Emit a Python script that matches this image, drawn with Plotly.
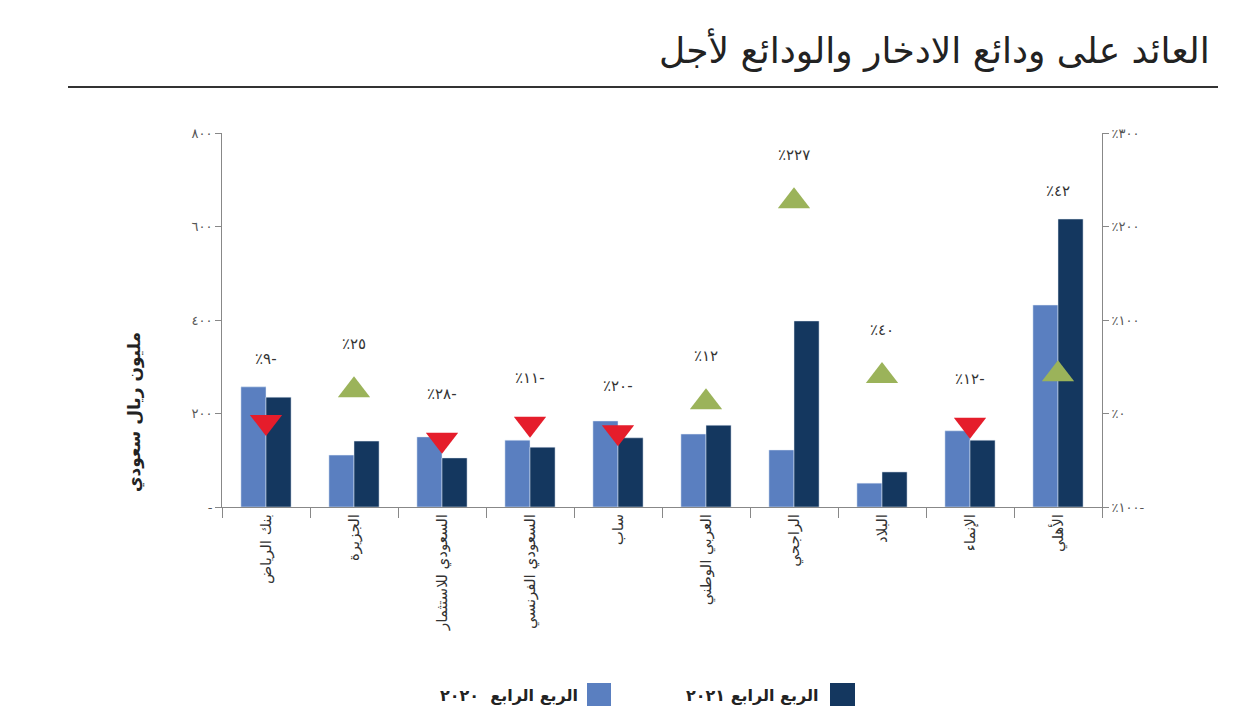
import plotly.graph_objects as go

# ---- data ----
banks = ["بنك الرياض", "الجزيرة", "السعودي للاستثمار", "السعودي الفرنسي", "ساب",
         "العربي الوطني", "الراجحي", "البلاد", "الإنماء", "الأهلي"]
q4_2020 = [257, 111, 150, 143, 184, 156, 122, 51, 163, 432]
q4_2021 = [235, 141, 105, 128, 148, 175, 398, 75, 143, 616]
change_pct = [-9, 25, -28, -11, -20, 12, 227, 40, -12, 42]
change_text = ["٪٩-", "٪٢٥", "٪٢٨-", "٪١١-", "٪٢٠-", "٪١٢", "٪٢٢٧", "٪٤٠", "٪١٢-", "٪٤٢"]
left_ticks = [0, 200, 400, 600, 800]
left_ticktext = ["-", "٢٠٠", "٤٠٠", "٦٠٠", "٨٠٠"]
right_ticks = [-100, 0, 100, 200, 300]
right_ticktext = ["٪١٠٠-", "٪٠", "٪١٠٠", "٪٢٠٠", "٪٣٠٠"]
title = "العائد على ودائع الادخار والودائع لأجل"
y_title = "مليون ريال سعودي"
legend_2021 = "الربع الرابع ٢٠٢١"
legend_2020 = "الربع الرابع  ٢٠٢٠"

LIGHT = "#5a7fc0"
DARK = "#14375f"
RED = "#e51d2b"
GREEN = "#9bb35a"
FONT = "DejaVu Sans"

fig = go.Figure()
fig.add_trace(go.Bar(x=banks, y=q4_2020, marker_color=LIGHT, name=legend_2020))
fig.add_trace(go.Bar(x=banks, y=q4_2021, marker_color=DARK, name=legend_2021))
fig.add_trace(go.Scatter(
    x=banks, y=change_pct, yaxis="y2", mode="markers",
    marker=dict(symbol=["triangle-up" if c >= 0 else "triangle-down" for c in change_pct],
                color=[GREEN if c >= 0 else RED for c in change_pct], size=28,
                line=dict(width=0)),
    showlegend=False))

# labels above markers / bars
for b, p, t, a, c in zip(banks, change_pct, change_text, q4_2020, q4_2021):
    bar_top_y2 = max(a, c) / 800 * 400 - 100
    ly = max(p + 49, bar_top_y2 + 30)
    fig.add_annotation(x=b, y=ly, yref="y2", text=t, showarrow=False,
                       font=dict(family=FONT, size=15, color="#333"), yanchor="middle")

# page offset of the figure (body margin)
OFF = 8
W, H = 1250 - 2 * OFF, 715 - 2 * OFF
L, R, T, B = 222 - OFF, 1250 - OFF - 1102, 133 - OFF, 715 - OFF - 507
pw, ph = W - L - R, H - T - B
def px(x):
    return (x - OFF - L) / pw
def py(y):
    return (H - B - (y - OFF)) / ph

fig.add_annotation(x=px(1212), y=py(50), xref="paper", yref="paper", text=title,
                   showarrow=False, xanchor="right", yanchor="middle",
                   font=dict(family=FONT, size=36, color="#222"))
fig.add_shape(type="line", xref="paper", yref="paper", x0=px(68), x1=px(1218),
              y0=py(87), y1=py(87), line=dict(color="#333", width=2))
fig.add_annotation(x=px(134), y=py(412), xref="paper", yref="paper", text="<b>" + y_title + "</b>",
                   showarrow=False, textangle=-90, xanchor="center", yanchor="middle",
                   font=dict(family=FONT, size=17, color="#222"))

# custom RTL legend
for (sx0, sx1, tx, txt, col) in [(830, 855, 820, legend_2021, DARK), (587, 611, 580, legend_2020, LIGHT)]:
    fig.add_shape(type="rect", xref="paper", yref="paper", x0=px(sx0), x1=px(sx1),
                  y0=py(706), y1=py(683), fillcolor=col, line=dict(width=0))
    fig.add_annotation(x=px(tx), y=py(695), xref="paper", yref="paper", text="<b>" + txt + "</b>",
                       showarrow=False, xanchor="right", yanchor="middle",
                       font=dict(family=FONT, size=16, color="#222"))

fig.update_layout(
    width=W, height=H, margin=dict(l=L, r=R, t=T, b=B),
    paper_bgcolor="white", plot_bgcolor="white",
    barmode="group", bargap=0.43, bargroupgap=0,
    showlegend=False,
    font=dict(family=FONT, color="#444"),
    xaxis=dict(type="category", range=[-0.5, len(banks) - 0.5], tickangle=-90,
               ticks="outside", tickson="boundaries",
               ticklen=10, tickcolor="#888", showline=True, linecolor="#888", linewidth=1,
               tickfont=dict(family=FONT, size=15, color="#333"), showgrid=False),
    yaxis=dict(range=[0, 800], tickvals=left_ticks, ticktext=left_ticktext,
               ticks="outside", ticklen=6, tickcolor="#888", showline=True,
               linecolor="#888", linewidth=1, showgrid=False, zeroline=False,
               tickfont=dict(family=FONT, size=13, color="#555")),
    yaxis2=dict(range=[-100, 300], overlaying="y", side="right", tickvals=right_ticks,
                ticktext=right_ticktext, ticks="outside", ticklen=6, tickcolor="#888",
                showline=True, linecolor="#888", linewidth=1, showgrid=False, zeroline=False,
                tickfont=dict(family=FONT, size=13, color="#555")),
)

fig.write_html("out.html")
